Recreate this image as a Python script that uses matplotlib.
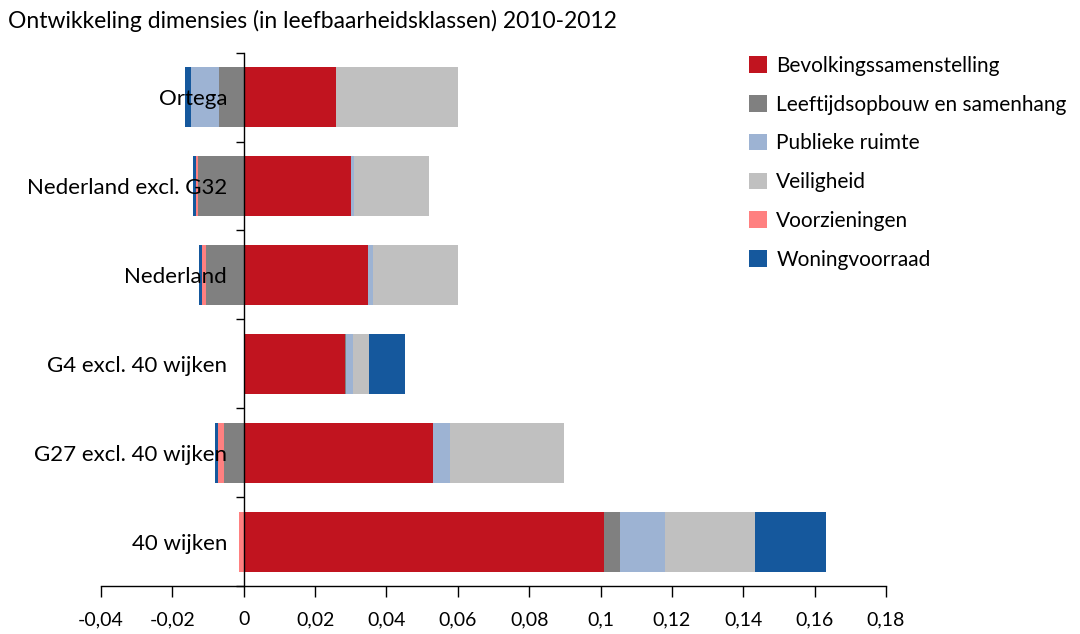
import matplotlib.pyplot as plt
import numpy as np

plt.rcParams['font.family'] = ['Lato', 'DejaVu Sans']

# categories, top to bottom
categories = ['Ortega', 'Nederland excl. G32', 'Nederland',
              'G4 excl. 40 wijken', 'G27 excl. 40 wijken', '40 wijken']

series = ['Bevolkingssamenstelling', 'Leeftijdsopbouw en samenhang',
          'Publieke ruimte', 'Veiligheid', 'Voorzieningen', 'Woningvoorraad']
colors = ['#C1141F', '#808080', '#9DB3D3', '#C0C0C0', '#FF8080', '#15589D']

# values per series, same order as categories
bevolking = [0.026, 0.030, 0.0347, 0.0285, 0.053, 0.101]
leeftijd = [-0.0070, -0.0127, -0.0106, 0.0003, -0.0055, 0.0045]
publiek = [-0.0078, 0.0010, 0.0014, 0.0017, 0.0048, 0.0126]
veiligheid = [0.034, 0.021, 0.024, 0.0047, 0.032, 0.0252]
voorzieningen = [0.0, -0.0006, -0.0011, 0.0, -0.0017, -0.0012]
woning = [-0.0017, -0.0008, -0.0008, 0.010, -0.0008, 0.020]

data = [bevolking, leeftijd, publiek, veiligheid, voorzieningen, woning]

xticks = [-0.04, -0.02, 0, 0.02, 0.04, 0.06, 0.08, 0.1, 0.12, 0.14, 0.16, 0.18]
xticklabels = ['-0,04', '-0,02', '0', '0,02', '0,04', '0,06', '0,08', '0,1',
               '0,12', '0,14', '0,16', '0,18']

fig = plt.figure(figsize=(10.8, 6.34), dpi=100)
ax = fig.add_axes([0.0935, 0.0757, 0.7269, 0.8413])
ax.spines['top'].set_visible(False)
ax.spines['right'].set_visible(False)
ax.spines['left'].set_position(('data', 0))

y = np.arange(len(categories))[::-1]
pos_left = np.zeros(len(categories))
neg_left = np.zeros(len(categories))
for name, vals, c in zip(series, data, colors):
    vals = np.array(vals)
    left = np.where(vals >= 0, pos_left, neg_left)
    ax.barh(y, vals, left=left, height=0.675, color=c, label=name, zorder=1)
    pos_left += np.where(vals >= 0, vals, 0)
    neg_left += np.where(vals < 0, vals, 0)

ax.set_xlim(-0.04, 0.18)
ax.set_ylim(-0.5, len(categories) - 0.5)
ax.set_xticks(xticks)
ax.set_xticklabels(xticklabels)
ax.set_yticks(y)
ax.set_yticklabels(categories)
ax.set_yticks(np.arange(-0.5, len(categories), 1), minor=True)

ax.tick_params(axis='y', which='major', length=0, pad=12, labelsize=16)
ax.tick_params(axis='y', which='minor', length=6, width=1, direction='out')
ax.tick_params(axis='x', length=8, width=1, direction='out', pad=10, labelsize=14)
for s in ['left', 'bottom']:
    ax.spines[s].set_linewidth(1)

fig.text(0.007, 0.967, 'Ontwikkeling dimensies (in leefbaarheidsklassen) 2010-2012',
         fontsize=16.5, va='center', ha='left')

ax.legend(loc='upper left', bbox_to_anchor=(0.686, 0.925), bbox_transform=fig.transFigure,
          frameon=False, fontsize=15, handlelength=0.85, handleheight=0.85,
          handletextpad=0.45, labelspacing=0.9, borderaxespad=0)

fig.savefig('out.png', dpi=100)
